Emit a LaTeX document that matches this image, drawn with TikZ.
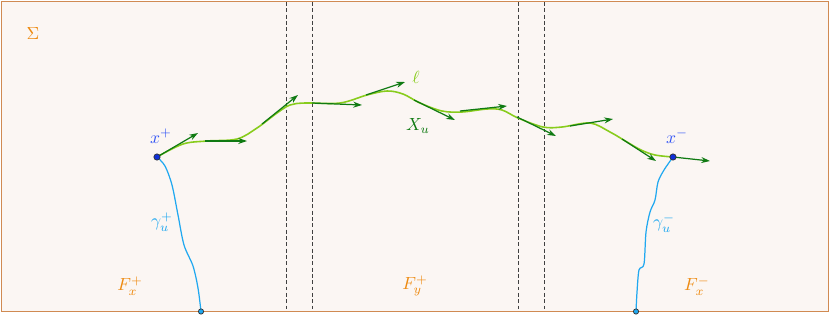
\documentclass[tikz,border=0pt]{standalone}
\usetikzlibrary{arrows.meta,positioning}
\definecolor{framefill}{HTML}{FBF6F3}
\definecolor{frameline}{HTML}{D08A52}
\definecolor{labelorange}{HTML}{EE8A10}
\definecolor{labelblue}{HTML}{3355F5}
\definecolor{pointblue}{HTML}{0F2FD8}
\definecolor{gammablue}{HTML}{20A8F0}
\definecolor{leafgreen}{HTML}{88CC1C}
\definecolor{flowgreen}{HTML}{0F7A12}

\begin{document}
\begin{tikzpicture}[
  x=0.02cm, y=-0.02cm,
  every node/.style={font=\normalsize},
  sep/.style={draw=black!75, thin, dash pattern=on 2.2pt off 1.4pt},
  leafline/.style={draw=leafgreen, line width=0.9pt},
  gammaline/.style={draw=gammablue, line width=0.7pt},
  tangent/.style={draw=flowgreen, line width=0.7pt, -{Stealth[length=5pt,width=3.4pt]}},
  endpt/.style={circle, draw=black!80, fill=pointblue, inner sep=0pt, minimum size=3.6pt},
  footpt/.style={circle, draw=black!80, fill=gammablue, inner sep=0pt, minimum size=3pt}
]
  \useasboundingbox (0,0) rectangle (830,315);
  \draw[draw=frameline, line width=0.8pt, fill=framefill] (1.5,1.5) rectangle (828.5,311.5);

  % separating lines
  \foreach \xs in {286,312,518,544}
    \draw[sep] (\xs,2) -- (\xs,311);

  \coordinate (xp) at (157,157);
  \coordinate (xm) at (673,157);
  \coordinate (gp) at (201,311.5);
  \coordinate (gm) at (636,311.5);

  % the leaf l
  \draw[leafline] plot[smooth, tension=0.55] coordinates {
    (xp) (183,144) (207,141) (237,139) (257,128) (277,113) (290,105)
    (305,103) (340,103) (367,95) (387,91) (403,94) (420,103) (442,111)
    (462,112) (487,109) (502,110) (518,118) (543,127) (562,127) (590,123)
    (610,132) (627,142) (641,150) (655,155) (xm)};

  % the paths gamma
  \draw[gammaline] plot[smooth, tension=0.5] coordinates {
    (xp) (165,166) (172,185) (178,215) (184,245) (193,266) (198,288) (gp)};
  \draw[gammaline] plot[smooth, tension=0.5] coordinates {
    (xm) (664,170) (658,182) (655,200) (650,212) (646,232) (644,264)
    (639,270) (637,292) (gm)};

  % tangent vectors of X_u
  \foreach \i/\sx/\sy/\ex/\ey in {1/157/157/198/133, 2/205/141/247/141,
      3/262/124/298/95, 4/312/103/362/105, 5/366/95/405/82,
      6/414/100/455/120, 7/460/111/507/106, 8/517/117/556/136,
      9/570/126/613/119, 10/622/139/656/161, 11/673/157/710/161} {
    \coordinate (t\i) at (\sx,\sy);
    \coordinate (h\i) at (\ex,\ey);
    \draw[tangent] (t\i) -- (h\i);
  }

  \node[endpt] (xplus) at (xp) {};
  \node[endpt] (xminus) at (xm) {};
  \node[footpt] (gplus) at (gp) {};
  \node[footpt] (gminus) at (gm) {};

  \node[text=labelorange] (sigma) at (33,33) {$\Sigma$};
  \node[text=labelblue] (xplab) at (161,136) {$x^+$};
  \node[text=labelblue] (xmlab) at (677,136) {$x^-$};
  \node[text=gammablue] (gplab) at (162,222) {$\gamma_u^+$};
  \node[text=gammablue] (gmlab) at (664,223) {$\gamma_u^-$};
  \node[text=leafgreen] (leaflab) at (416,77) {$\ell$};
  \node[text=flowgreen] (flowlab) at (418,126) {$X_u$};
  \node[text=labelorange] (fxp) at (130,286) {$F_x^+$};
  \node[text=labelorange] (fyp) at (415,286) {$F_y^+$};
  \node[text=labelorange] (fxm) at (697,286) {$F_x^-$};
\end{tikzpicture}
\end{document}
